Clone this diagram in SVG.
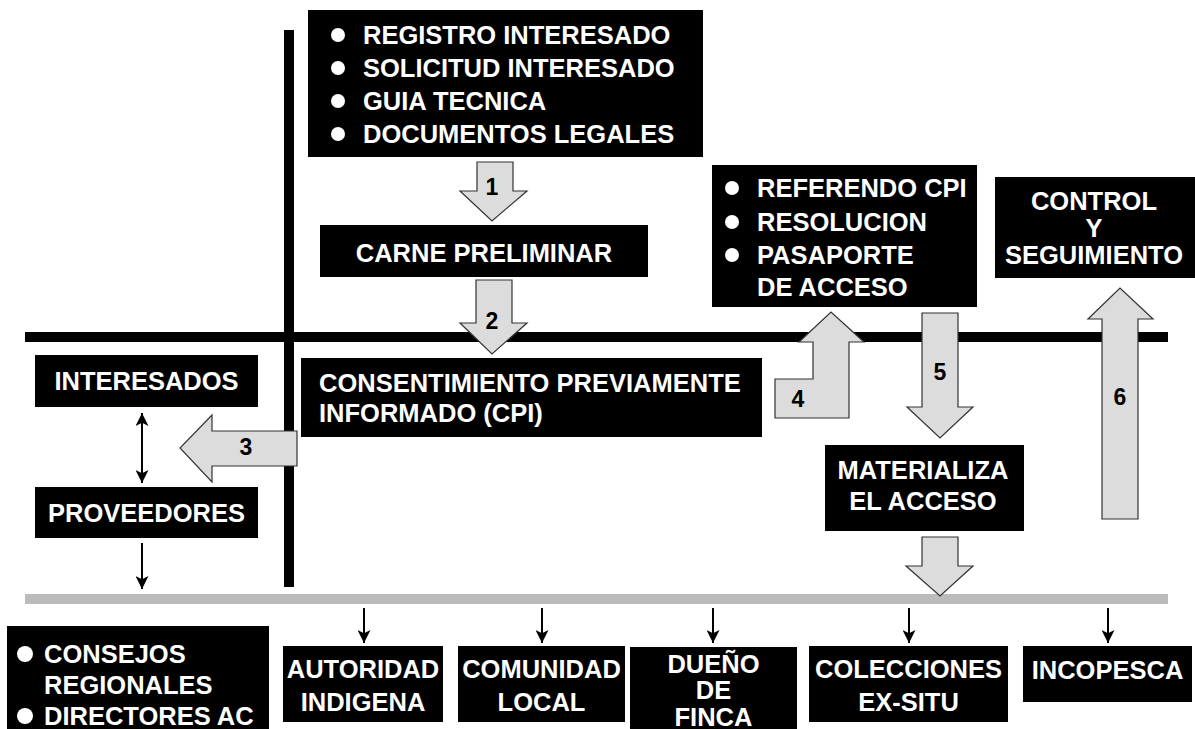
<svg xmlns="http://www.w3.org/2000/svg" width="1195" height="729" viewBox="0 0 1195 729">
<defs>
<style>
.box{fill:#000}
.t{font-family:"Liberation Sans",Arial,Helvetica,sans-serif;font-weight:bold;font-size:25.5px;fill:#fff}
.c{text-anchor:middle}
.bul{fill:#fff}
.big{fill:#dcdcdc;stroke:#333;stroke-width:1.2;stroke-linejoin:miter}
.num{font-family:"Liberation Sans",Arial,Helvetica,sans-serif;font-weight:bold;font-size:23px;fill:#000;text-anchor:middle}
.sm{stroke:#000;stroke-width:2;fill:none;marker-end:url(#ah)}
</style>
<marker id="ah" viewBox="0 0 12 12" refX="12" refY="6" markerWidth="13" markerHeight="13" markerUnits="userSpaceOnUse" orient="auto-start-reverse">
<path d="M0,0 L12,6 L0,12 L3,6 z" fill="#000"/>
</marker>
</defs>

<g id="frame">
<rect x="284" y="30" width="10" height="557" fill="#000"/>
<rect x="25" y="332" width="1143" height="10" fill="#000"/>
<rect x="25" y="594" width="1143" height="10" fill="#bbbbbb"/>
</g>

<g id="n-requisitos">
<rect class="box" x="308" y="10" width="395" height="147"/>
<circle class="bul" cx="338" cy="35" r="7"/>
<circle class="bul" cx="338" cy="68" r="7"/>
<circle class="bul" cx="338" cy="101" r="7"/>
<circle class="bul" cx="338" cy="134" r="7"/>
<text class="t" x="363" y="44">REGISTRO INTERESADO</text>
<text class="t" x="363" y="77">SOLICITUD INTERESADO</text>
<text class="t" x="363" y="110">GUIA TECNICA</text>
<text class="t" x="363" y="143">DOCUMENTOS LEGALES</text>
</g>

<g id="n-carne">
<rect class="box" x="320" y="225" width="328" height="52"/>
<text class="t c" x="484" y="262">CARNE PRELIMINAR</text>
</g>

<g id="n-cpi">
<rect class="box" x="301" y="358" width="461" height="79"/>
<text class="t" x="319" y="392">CONSENTIMIENTO PREVIAMENTE</text>
<text class="t" x="319" y="422">INFORMADO (CPI)</text>
</g>

<g id="n-interesados">
<rect class="box" x="35" y="355" width="223" height="52"/>
<text class="t c" x="146.5" y="390">INTERESADOS</text>
</g>

<g id="n-proveedores">
<rect class="box" x="35" y="487" width="223" height="51"/>
<text class="t c" x="146.5" y="522">PROVEEDORES</text>
</g>

<g id="n-referendo">
<rect class="box" x="712" y="165" width="265" height="142"/>
<circle class="bul" cx="732" cy="188" r="7"/>
<circle class="bul" cx="732" cy="222" r="7"/>
<circle class="bul" cx="732" cy="255" r="7"/>
<text class="t" x="757" y="197">REFERENDO CPI</text>
<text class="t" x="757" y="231">RESOLUCION</text>
<text class="t" x="757" y="264">PASAPORTE</text>
<text class="t" x="757" y="296">DE ACCESO</text>
</g>

<g id="n-control">
<rect class="box" x="995" y="177" width="200" height="101"/>
<text class="t c" x="1094" y="210">CONTROL</text>
<text class="t c" x="1094" y="237">Y</text>
<text class="t c" x="1094" y="264">SEGUIMIENTO</text>
</g>

<g id="n-materializa">
<rect class="box" x="825" y="445" width="199" height="86"/>
<text class="t c" x="923" y="479">MATERIALIZA</text>
<text class="t c" x="923" y="510">EL ACCESO</text>
</g>

<g id="n-consejos">
<rect class="box" x="7" y="626" width="262" height="103"/>
<circle class="bul" cx="25" cy="654" r="8"/>
<circle class="bul" cx="25" cy="716" r="8"/>
<text class="t" x="44" y="663">CONSEJOS</text>
<text class="t" x="44" y="694">REGIONALES</text>
<text class="t" x="44" y="725">DIRECTORES AC</text>
</g>

<g id="n-autoridad">
<rect class="box" x="283" y="646" width="160" height="76"/>
<text class="t c" x="363" y="678">AUTORIDAD</text>
<text class="t c" x="363" y="711">INDIGENA</text>
</g>

<g id="n-comunidad">
<rect class="box" x="458" y="646" width="167" height="76"/>
<text class="t c" x="541.5" y="678">COMUNIDAD</text>
<text class="t c" x="541.5" y="711">LOCAL</text>
</g>

<g id="n-dueno">
<rect class="box" x="630" y="647" width="167" height="82"/>
<text class="t c" x="713.5" y="673">DUEÑO</text>
<text class="t c" x="713.5" y="699">DE</text>
<text class="t c" x="713.5" y="726">FINCA</text>
</g>

<g id="n-colecciones">
<rect class="box" x="809" y="646" width="199" height="76"/>
<text class="t c" x="908.5" y="678">COLECCIONES</text>
<text class="t c" x="908.5" y="711">EX-SITU</text>
</g>

<g id="n-incopesca">
<rect class="box" x="1023" y="646" width="169" height="56"/>
<text class="t c" x="1107.5" y="679">INCOPESCA</text>
</g>

<g id="connectors">
<polygon class="big" points="477,162 513,162 513,191 527,191 492,221 460,191 477,191"/>
<text class="num" x="492" y="195">1</text>
<polygon class="big" points="476,280 512,280 512,323 527,323 492,354 460,323 476,323"/>
<text class="num" x="492" y="329">2</text>
<polygon class="big" points="297,431 212,431 212,415 180,448 212,482 212,466 297,466"/>
<text class="num" x="246" y="455">3</text>
<polygon class="big" points="775,379 813,379 813,342 799,342 831,312 864,342 849,342 849,418 775,418"/>
<text class="num" x="798" y="407">4</text>
<polygon class="big" points="922,313 958,313 958,407 973,407 940,438 907,407 922,407"/>
<text class="num" x="940" y="380">5</text>
<polygon class="big" points="1102,519 1138,519 1138,319 1153,319 1120,288 1088,319 1102,319"/>
<text class="num" x="1120" y="405">6</text>
<polygon class="big" points="922,537 958,537 958,566 973,566 940,596 906,566 922,566"/>
<line class="sm" x1="142" y1="413" x2="142" y2="483" style="marker-start:url(#ah)"/>
<line class="sm" x1="142" y1="543" x2="142" y2="589"/>
<line class="sm" x1="364" y1="608" x2="364" y2="643"/>
<line class="sm" x1="542" y1="608" x2="542" y2="643"/>
<line class="sm" x1="713" y1="608" x2="713" y2="643"/>
<line class="sm" x1="909" y1="608" x2="909" y2="643"/>
<line class="sm" x1="1108" y1="608" x2="1108" y2="643"/>
</g>
</svg>
